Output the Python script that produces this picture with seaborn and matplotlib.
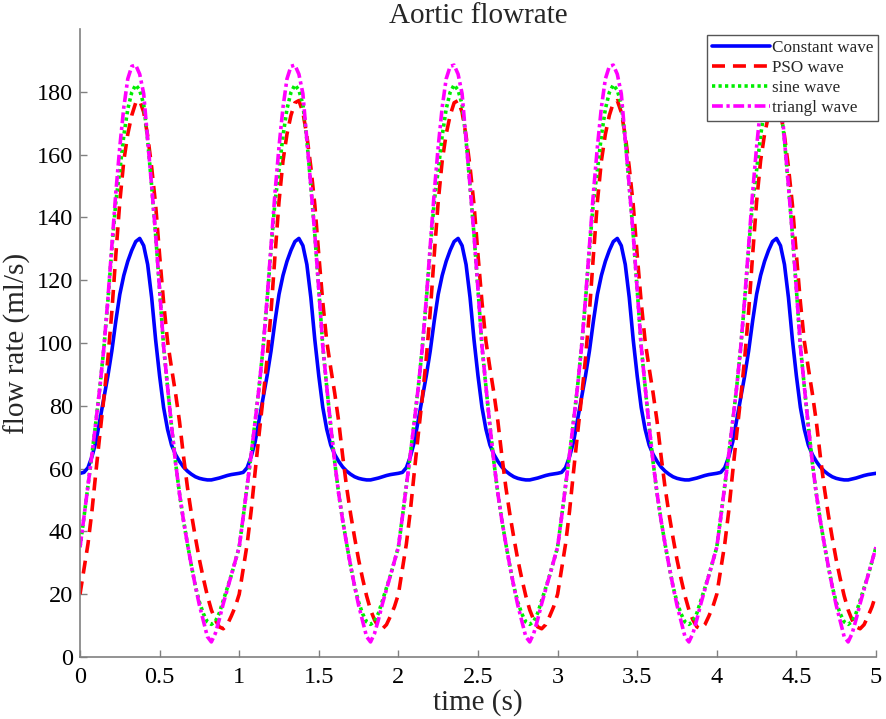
import matplotlib
matplotlib.use("Agg")
import matplotlib.pyplot as plt
import numpy as np
import pandas as pd
import seaborn as sns

# time grid, 0 to 5 s in 0.025 s steps
time_s = np.round(np.arange(201) * 0.025, 3)

# flow rate (ml/s), one line per 1 s cycle
constant_wave = [
    58.5, 58.8, 60.3, 63.8, 68.5, 75.5, 82.5, 89.5, 97.5, 107, 115.5, 121.5, 126, 129.5, 132.3, 133.3, 131, 125, 114.5, 101, 89.5, 79.5, 72.5, 67.5, 64.5, 62.3, 60.5, 59.2, 58.2, 57.4, 56.9, 56.6, 56.4, 56.4, 56.7, 57, 57.4, 57.8, 58.1, 58.3,
    58.5, 58.8, 60.3, 63.8, 68.5, 75.5, 82.5, 89.5, 97.5, 107, 115.5, 121.5, 126, 129.5, 132.3, 133.3, 131, 125, 114.5, 101, 89.5, 79.5, 72.5, 67.5, 64.5, 62.3, 60.5, 59.2, 58.2, 57.4, 56.9, 56.6, 56.4, 56.4, 56.7, 57, 57.4, 57.8, 58.1, 58.3,
    58.5, 58.8, 60.3, 63.8, 68.5, 75.5, 82.5, 89.5, 97.5, 107, 115.5, 121.5, 126, 129.5, 132.3, 133.3, 131, 125, 114.5, 101, 89.5, 79.5, 72.5, 67.5, 64.5, 62.3, 60.5, 59.2, 58.2, 57.4, 56.9, 56.6, 56.4, 56.4, 56.7, 57, 57.4, 57.8, 58.1, 58.3,
    58.5, 58.8, 60.3, 63.8, 68.5, 75.5, 82.5, 89.5, 97.5, 107, 115.5, 121.5, 126, 129.5, 132.3, 133.3, 131, 125, 114.5, 101, 89.5, 79.5, 72.5, 67.5, 64.5, 62.3, 60.5, 59.2, 58.2, 57.4, 56.9, 56.6, 56.4, 56.4, 56.7, 57, 57.4, 57.8, 58.1, 58.3,
    58.5, 58.8, 60.3, 63.8, 68.5, 75.5, 82.5, 89.5, 97.5, 107, 115.5, 121.5, 126, 129.5, 132.3, 133.3, 131, 125, 114.5, 101, 89.5, 79.5, 72.5, 67.5, 64.5, 62.3, 60.5, 59.2, 58.2, 57.4, 56.9, 56.6, 56.4, 56.4, 56.7, 57, 57.4, 57.8, 58.1, 58.3,
    58.5,
]
pso_wave = [
    20, 28, 36, 46.5, 59, 71, 82.5, 95, 110, 128, 145, 158, 166.5, 172.5, 176.5, 177.2, 173.5, 166, 156, 144, 128, 113, 100.5, 92, 84, 75, 64, 54, 45.5, 38, 31, 25, 19.5, 15, 11.8, 9.6, 9, 10.3, 13, 16,
    20, 28, 36, 46.5, 59, 71, 82.5, 95, 110, 128, 145, 158, 166.5, 172.5, 176.5, 177.2, 173.5, 166, 156, 144, 128, 113, 100.5, 92, 84, 75, 64, 54, 45.5, 38, 31, 25, 19.5, 15, 11.8, 9.6, 9, 10.3, 13, 16,
    20, 28, 36, 46.5, 59, 71, 82.5, 95, 110, 128, 145, 158, 166.5, 172.5, 176.5, 177.2, 173.5, 166, 156, 144, 128, 113, 100.5, 92, 84, 75, 64, 54, 45.5, 38, 31, 25, 19.5, 15, 11.8, 9.6, 9, 10.3, 13, 16,
    20, 28, 36, 46.5, 59, 71, 82.5, 95, 110, 128, 145, 158, 166.5, 172.5, 176.5, 177.2, 173.5, 166, 156, 144, 128, 113, 100.5, 92, 84, 75, 64, 54, 45.5, 38, 31, 25, 19.5, 15, 11.8, 9.6, 9, 10.3, 13, 16,
    20, 28, 36, 46.5, 59, 71, 82.5, 95, 110, 128, 145, 158, 166.5, 172.5, 176.5, 177.2, 173.5, 166, 156, 144, 128, 113, 100.5, 92, 84, 75, 64, 54, 45.5, 38, 31, 25, 19.5, 15, 11.8, 9.6, 9, 10.3, 13, 16,
    20,
]
sine_wave = [
    35, 44.6, 54.5, 64.5, 75, 86, 98.5, 113.3, 130, 145, 155, 166, 174.5, 179.8, 182.2, 180.5, 176, 164.6, 150, 134.5, 117, 99, 86, 73.5, 62, 52, 43.5, 36, 29, 22.5, 17.5, 13.8, 11.2, 10.4, 11.3, 14, 18, 22, 26, 30.5,
    35, 44.6, 54.5, 64.5, 75, 86, 98.5, 113.3, 130, 145, 155, 166, 174.5, 179.8, 182.2, 180.5, 176, 164.6, 150, 134.5, 117, 99, 86, 73.5, 62, 52, 43.5, 36, 29, 22.5, 17.5, 13.8, 11.2, 10.4, 11.3, 14, 18, 22, 26, 30.5,
    35, 44.6, 54.5, 64.5, 75, 86, 98.5, 113.3, 130, 145, 155, 166, 174.5, 179.8, 182.2, 180.5, 176, 164.6, 150, 134.5, 117, 99, 86, 73.5, 62, 52, 43.5, 36, 29, 22.5, 17.5, 13.8, 11.2, 10.4, 11.3, 14, 18, 22, 26, 30.5,
    35, 44.6, 54.5, 64.5, 75, 86, 98.5, 113.3, 130, 145, 155, 166, 174.5, 179.8, 182.2, 180.5, 176, 164.6, 150, 134.5, 117, 99, 86, 73.5, 62, 52, 43.5, 36, 29, 22.5, 17.5, 13.8, 11.2, 10.4, 11.3, 14, 18, 22, 26, 30.5,
    35, 44.6, 54.5, 64.5, 75, 86, 98.5, 113.3, 130, 145, 155, 166, 174.5, 179.8, 182.2, 180.5, 176, 164.6, 150, 134.5, 117, 99, 86, 73.5, 62, 52, 43.5, 36, 29, 22.5, 17.5, 13.8, 11.2, 10.4, 11.3, 14, 18, 22, 26, 30.5,
    35,
]
triangl_wave = [
    35, 44.6, 54.5, 64.5, 75, 86, 98.5, 114, 131.1, 147.9, 162.5, 175, 184.1, 188.1, 188.5, 185.6, 179.4, 164.6, 150, 134.5, 117, 99, 86, 73.5, 62, 52, 43.5, 36, 29, 22.5, 16.5, 11.5, 6.5, 4.8, 7.5, 12, 17, 21.5, 26, 30.5,
    35, 44.6, 54.5, 64.5, 75, 86, 98.5, 114, 131.1, 147.9, 162.5, 175, 184.1, 188.1, 188.5, 185.6, 179.4, 164.6, 150, 134.5, 117, 99, 86, 73.5, 62, 52, 43.5, 36, 29, 22.5, 16.5, 11.5, 6.5, 4.8, 7.5, 12, 17, 21.5, 26, 30.5,
    35, 44.6, 54.5, 64.5, 75, 86, 98.5, 114, 131.1, 147.9, 162.5, 175, 184.1, 188.1, 188.5, 185.6, 179.4, 164.6, 150, 134.5, 117, 99, 86, 73.5, 62, 52, 43.5, 36, 29, 22.5, 16.5, 11.5, 6.5, 4.8, 7.5, 12, 17, 21.5, 26, 30.5,
    35, 44.6, 54.5, 64.5, 75, 86, 98.5, 114, 131.1, 147.9, 162.5, 175, 184.1, 188.1, 188.5, 185.6, 179.4, 164.6, 150, 134.5, 117, 99, 86, 73.5, 62, 52, 43.5, 36, 29, 22.5, 16.5, 11.5, 6.5, 4.8, 7.5, 12, 17, 21.5, 26, 30.5,
    35, 44.6, 54.5, 64.5, 75, 86, 98.5, 114, 131.1, 147.9, 162.5, 175, 184.1, 188.1, 188.5, 185.6, 179.4, 164.6, 150, 134.5, 117, 99, 86, 73.5, 62, 52, 43.5, 36, 29, 22.5, 16.5, 11.5, 6.5, 4.8, 7.5, 12, 17, 21.5, 26, 30.5,
    35,
]

series = {
    "Constant wave": (constant_wave, "#0000ff", (None, None)),
    "PSO wave": (pso_wave, "#ff0000", (3.6, 2.2)),
    "sine wave": (sine_wave, "#00ee00", (0.9, 0.9)),
    "triangl wave": (triangl_wave, "#ff00ff", (3.0, 1.0, 0.9, 1.0)),
}

sns.set_style("ticks")
plt.rcParams["font.family"] = ["Liberation Serif", "DejaVu Serif"]

fig = plt.figure(figsize=(8.87, 7.19), dpi=100)
ax = fig.add_axes([0.0902, 0.0862, 0.8974, 0.8735])

for label, (values, color, dashes) in series.items():
    df = pd.DataFrame({"time": time_s, "flow": values})
    line_kw = {} if dashes[0] is None else {"dashes": dashes}
    sns.lineplot(data=df, x="time", y="flow", ax=ax, color=color,
                 linewidth=2.6, label=label, estimator=None, sort=False, **line_kw)

ax.set_xlim(0, 5)
ax.set_ylim(0, 200)
ax.set_xticks(np.arange(0, 5.01, 0.5))
ax.set_xticklabels(["0", "0.5", "1", "1.5", "2", "2.5", "3", "3.5", "4", "4.5", "5"])
ax.set_yticks(np.arange(0, 181, 20))

for side in ("top", "right"):
    ax.spines[side].set_visible(False)
for side in ("left", "bottom"):
    ax.spines[side].set_color("#808080")
    ax.spines[side].set_linewidth(1.2)
ax.tick_params(direction="in", length=5, width=1.0, color="#808080",
               labelsize=17.5, labelcolor="black")
ax.tick_params(axis="x", pad=7)
ax.tick_params(axis="y", pad=5)

ax.set_xlabel("time (s)", fontsize=21, labelpad=1)
ax.set_ylabel("flow rate (ml/s)", fontsize=21, labelpad=4)
ax.set_title("Aortic flowrate", fontsize=21, pad=3)

leg = ax.legend(loc="upper right", bbox_to_anchor=(1.003, 0.99), fontsize=12.3,
                handlelength=3.4, handletextpad=0.1, labelspacing=0.22,
                borderpad=0.3, borderaxespad=0, fancybox=False, framealpha=1)
leg.get_frame().set_edgecolor("#555555")
leg.get_frame().set_linewidth(1.0)

fig.savefig("out.png", dpi=100)
